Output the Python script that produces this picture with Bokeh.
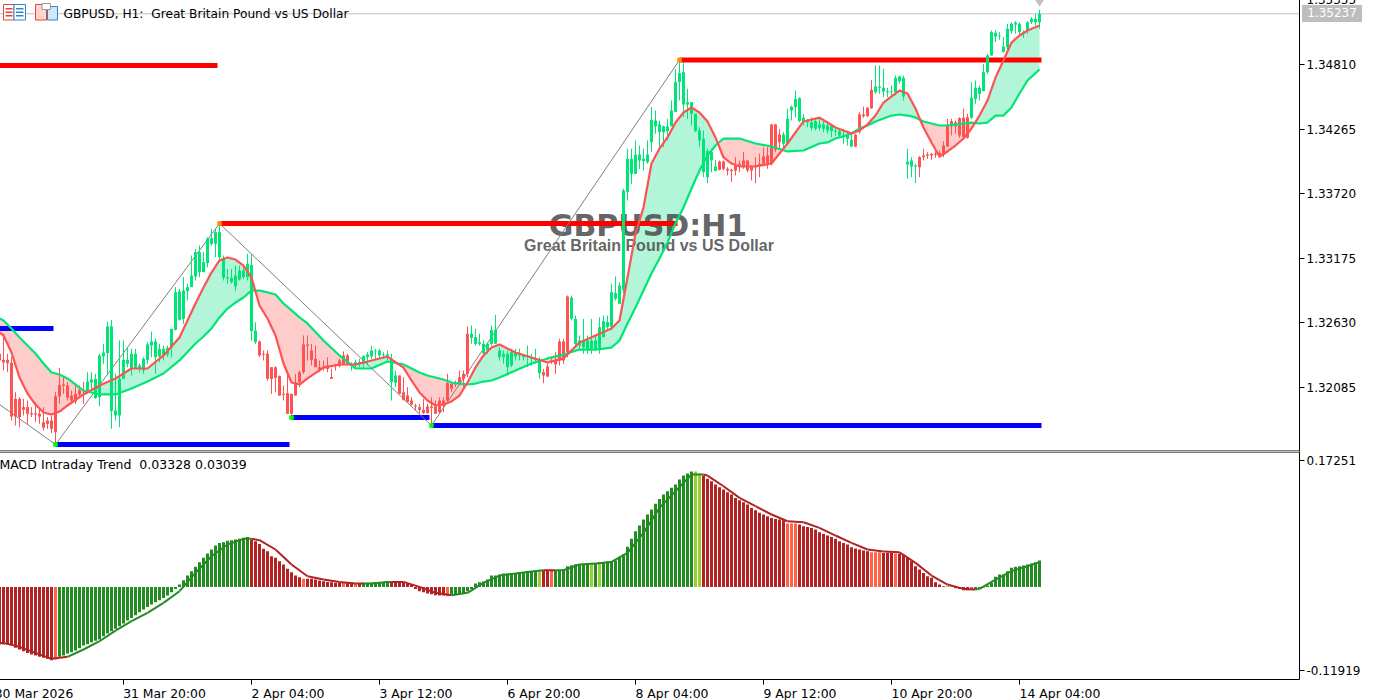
import numpy as np
from bokeh.core.properties import value
from bokeh.embed import file_html
from bokeh.layouts import column
from bokeh.models import (ColumnDataSource, Div, FixedTicker, Label, LinearAxis, NumeralTickFormatter,
                          Range1d, Span)
from bokeh.plotting import figure
from bokeh.resources import INLINE

# ---- price data, in points above 1.30000 (1 point = 0.00001), bars -1 .. 259
high_pts = [2424,2537,2368,2340,2044,2002,1988,1974,1918,1960,1904,1918,1834,1848,2044,2250,2171,2129,2059,2101,
 2101,2129,2213,2213,2199,2368,2452,2641,2655,2199,2481,2481,2424,2410,2410,2284,2340,2466,2556,2495,
 2452,2438,2438,2579,2931,2917,3015,2959,3198,3254,3282,3226,3353,3423,3423,3451,3198,3085,3085,3113,
 3113,3113,3212,3212,2635,2481,2396,2396,2255,2261,2185,2101,2199,2030,2199,2227,2523,2523,2452,2438,
 2312,2312,2340,2241,2284,2326,2388,2368,2298,2317,2326,2354,2382,2438,2410,2410,2382,2396,2368,2227,
 2185,2171,2087,2002,1946,1946,1988,1946,2002,1974,2002,2002,2199,2129,2143,2227,2227,2599,2607,2579,
 2537,2481,2466,2607,2697,2424,2396,2396,2410,2410,2410,2368,2438,2368,2410,2340,2241,2284,2340,2382,
 2495,2495,2860,2860,2691,2523,2663,2523,2663,2523,2677,2691,2691,2959,3021,2973,3761,4098,4098,4169,
 4126,4098,4169,4450,4422,4337,4295,4351,4506,4773,4844,4830,4605,4492,4394,4281,4253,4098,4084,4005,
 4000,4000,3943,3929,4028,4000,4070,4000,3958,4028,4056,4112,4112,4309,4309,4267,4239,4436,4464,4590,
 4534,4394,4351,4365,4351,4365,4351,4323,4309,4267,4267,4267,4239,4239,4225,4408,4455,4450,4680,4801,
 4801,4773,4613,4633,4717,4717,4717,4098,4028,3972,4036,4098,4070,4062,4084,4084,4163,4351,4351,4337,
 4365,4436,4394,4661,4675,4633,4816,4900,5097,5097,5083,5041,5153,5167,5176,5167,5097,5176,5209,5237,5271]
low_pts = [2255,2227,2213,1805,1763,1749,1848,1777,1834,1791,1777,1721,1735,1698,1600,1946,2030,1974,1946,1946,
 2002,1946,2030,2059,1988,1924,2284,2185,1735,1805,1749,2157,2255,2185,2241,2213,2199,2284,2340,2199,
 2298,2312,2340,2340,2565,2649,2621,2818,2931,2987,3015,3057,3099,3282,3184,3142,2987,2959,2959,2897,
 2987,3001,2987,2481,2452,2340,2312,2143,2030,2044,2016,1974,1862,1834,2016,2087,2199,2312,2270,2255,
 2213,2227,2213,2157,2227,2255,2284,2270,2227,2241,2255,2241,2270,2326,2312,2326,2326,2312,1974,2087,
 2030,1974,1960,1932,1890,1862,1862,1862,1760,1862,1862,1876,1946,2044,2087,2101,2087,2171,2452,2438,
 2438,2340,2368,2438,2452,2312,2284,2185,2255,2312,2312,2312,2255,2270,2284,2157,2120,2171,2284,2199,
 2270,2284,2340,2649,2424,2410,2368,2368,2368,2396,2368,2509,2565,2565,2818,2790,2880,3662,3803,3887,
 3929,3915,3972,4070,4225,4112,4112,4169,4309,4408,4506,4365,4351,4295,4239,4112,3859,3808,3901,3915,
 3915,3915,3873,3817,3873,3901,3929,3901,3831,3808,3859,3958,3929,3958,4070,4098,4098,4140,4337,4365,
 4323,4295,4281,4253,4253,4253,4239,4225,4197,4211,4197,4140,4126,4112,4112,4225,4360,4365,4436,4562,
 4562,4534,4534,4548,4548,4647,4506,3845,3859,3808,3859,4000,4014,4005,4022,4028,4028,4112,4211,4225,
 4191,4197,4183,4351,4478,4506,4590,4731,4886,4998,5018,4914,4928,5069,5069,5046,5035,5069,5153,5139,5111]
body_top_pts = [2368,2317,2317,2292,1988,1988,1918,1918,1867,1867,1862,1791,1805,1805,2011,2106,2109,2101,2016,2030,
 2059,2059,2135,2151,2157,2354,2379,2599,2599,1890,2157,2317,2317,2368,2368,2270,2326,2447,2472,2472,
 2410,2410,2416,2579,2888,2894,2902,2931,3029,3226,3226,3142,3338,3344,3395,3395,3178,3015,3009,3029,
 3071,3071,3127,3119,2565,2472,2368,2368,2255,2255,2179,2030,2036,2030,2129,2213,2447,2447,2396,2326,
 2255,2261,2270,2171,2270,2312,2354,2354,2284,2298,2298,2348,2362,2396,2396,2396,2362,2362,2326,2185,
 2185,2044,2016,1974,1932,1918,1895,1924,1924,1924,1974,1974,2120,2115,2120,2171,2199,2537,2537,2509,
 2466,2452,2452,2570,2570,2396,2368,2368,2382,2382,2362,2354,2354,2340,2326,2317,2213,2261,2312,2317,
 2472,2472,2852,2841,2663,2481,2481,2481,2481,2481,2593,2644,2635,2888,2880,2945,3747,4014,4014,4050,
 4050,4014,4050,4343,4337,4304,4287,4287,4422,4661,4737,4745,4492,4492,4394,4253,4183,4079,4070,3949,
 3991,3991,3929,3921,3958,3972,4000,4000,3949,3958,3972,4033,4042,4304,4304,4219,4219,4351,4455,4520,
 4526,4360,4332,4323,4332,4304,4304,4295,4289,4253,4247,4211,4211,4174,4216,4388,4388,4444,4596,4624,
 4624,4613,4585,4582,4697,4709,4697,3989,4000,3958,4028,4042,4050,4056,4056,4064,4126,4304,4332,4323,
 4357,4360,4365,4529,4613,4613,4745,4886,5083,5077,5055,4962,5111,5153,5164,5153,5083,5167,5195,5195,5237]
body_bot_pts = [2312,2295,2289,1839,1839,1834,1895,1862,1856,1856,1839,1744,1777,1735,1707,2008,2098,1997,1974,1966,
 2025,2053,2059,2126,1994,2002,2346,2374,1884,1848,1848,2157,2284,2241,2241,2241,2227,2317,2438,2340,
 2346,2354,2362,2424,2570,2655,2663,2897,2931,3021,3057,3057,3133,3296,3296,3184,3009,3004,2973,2936,
 2995,3015,3015,2559,2466,2354,2360,2157,2157,2165,2016,2022,1862,1862,2016,2129,2213,2436,2317,2255,
 2227,2250,2241,2157,2264,2264,2284,2284,2264,2270,2278,2284,2340,2346,2390,2354,2354,2346,2129,2123,
 2030,1980,1960,1940,1924,1895,1867,1867,1912,1862,1876,1932,1974,2073,2109,2115,2157,2199,2503,2452,
 2452,2374,2396,2452,2452,2340,2340,2255,2270,2346,2354,2340,2340,2326,2317,2205,2185,2177,2300,2278,
 2312,2312,2382,2663,2452,2438,2424,2410,2410,2410,2410,2509,2593,2593,2832,2790,2908,3733,3887,3887,
 4000,3994,3986,4154,4287,4239,4239,4247,4287,4408,4661,4472,4472,4394,4247,4169,3901,3859,4000,3910,
 3921,3929,3915,3910,3915,3958,3952,3915,3915,3943,3952,3972,3966,3972,4090,4154,4140,4140,4422,4450,
 4332,4323,4320,4275,4267,4275,4267,4253,4247,4244,4211,4202,4183,4118,4118,4239,4374,4374,4441,4576,
 4613,4582,4576,4576,4576,4669,4540,3966,3949,3949,3943,4028,4039,4042,4048,4033,4050,4118,4287,4287,
 4211,4197,4191,4360,4520,4562,4585,4745,4886,5046,5049,4914,4956,5091,5147,5083,5069,5097,5167,5167,5167]
# inclusive runs of bars that closed up; all others closed down
up_bar_runs = [(21,63),(87,98),(117,134),(142,178),(195,212),(218,228),(242,259)]

# ---- moving averages at these bars
band_bars_a = [-1,0,4,8,12,16,20,24,28,32,36,40,44,48,52,56,60,64,68,72,76,80,84,88,92,96,100,104,108,112,116,120,124,128,
 132,136,140,144,148,152,156,160,164,168,172,176,180,184,188,192,196,200,204,208,212,216,220,224,228,232,236,240,244,248,252,256,259]
fast_pts_a = [2548,2523,2168,1940,1856,1932,2025,2101,2160,2244,2244,2354,2506,2793,3054,3181,3113,2776,2523,2126,2160,2252,2278,2278,2312,2345,2252,2042,1932,1966,2126,2354,2447,2379,
 2337,2295,2328,2464,2523,2582,3012,3603,4101,4320,4447,4329,4025,3949,3949,3974,4143,4329,4362,4278,4227,4303,4489,4590,4438,4152,4076,4185,4379,4700,4995,5097,5139]
slow_pts_a = [2666,2649,2506,2371,2210,2160,2058,2025,2025,2075,2134,2202,2312,2455,2582,2750,2843,2902,2869,2734,2624,2480,2354,2244,2244,2303,2278,2210,2168,2126,2109,2134,2168,2227,
 2286,2329,2362,2404,2404,2421,2624,2902,3172,3468,3763,4042,4185,4185,4143,4118,4076,4084,4143,4185,4227,4295,4354,4388,4363,4312,4295,4312,4312,4379,4447,4675,4768]
band_bars_b = [2,6,10,14,50,54,58,62,66,70,74,102,106,110,114,118,122,154,158,162,166,170,174,178,182,206,210,214,218,222,226,230,234,238,242,246,250,254]
fast_pts_b = [2379,2033,1873,1881,2928,3156,3164,3012,2666,2286,2109,2143,1974,1940,2016,2253,2421,2649,3383,3974,4194,4405,4405,4194,3974,4320,4253,4253,4379,4540,4565,4278,4033,4126,4270,4506,4844,5055]
slow_pts_b = [2582,2438,2286,2193,2514,2675,2801,2902,2886,2793,2675,2244,2185,2151,2117,2117,2143,2480,2759,3046,3308,3603,3915,4126,4185,4152,4202,4270,4329,4379,4379,4329,4295,4303,4320,4320,4379,4565]

# ---- zigzag and support / resistance levels
zigzag_bars = [-1,13,54,107,169]
zigzag_pts = [1940,1603,3468,1763,4848]
res_starts = [-2,54,169]
res_ends = [53.5,168.5,259.5]
res_levels = [4801,3468,4848]
sup_starts = [-2,13,72,107]
sup_ends = [12.5,71.5,106.5,259.5]
sup_levels = [2582,1603,1830,1763]
high_marker_bars = [54,169]
high_marker_pts = [3468,4848]
low_marker_bars = [13,72,107]
low_marker_pts = [1603,1830,1763]

# ---- MACD histogram and signal, in thousandths, bars -1 .. 259
hist_milli = [-83.8,-83.8,-83.8,-84.7,-88.4,-90.7,-93.1,-95.4,-97.7,-99.1,-100.9,-102.3,-103.7,-105.6,-104.6,-100.9,-99.1,-96.3,-94.5,-92.1,
 -88.9,-85.2,-83.3,-80.6,-78.7,-76.9,-72.2,-68.5,-65.3,-62.0,-58.3,-54.6,-50.5,-46.8,-43.1,-38.9,-35.2,-31.5,-28.2,-25.0,
 -22.2,-19.0,-15.7,-11.1,-6.5,-0.5,5.6,12.0,18.1,24.1,30.6,36.6,42.6,48.2,53.7,57.4,58.3,60.2,61.1,62.0,
 63.0,64.4,65.7,62.0,59.7,56.0,49.1,45.8,38.9,36.6,31.9,27.3,21.3,16.7,12.0,9.7,7.4,7.4,7.4,6.5,
 5.1,4.2,3.2,2.8,1.9,1.9,1.9,1.9,1.9,0.5,0.5,1.9,1.9,1.9,3.2,3.2,3.2,4.2,4.2,4.2,
 2.8,1.9,0.5,-0.5,-6.5,-9.7,-11.1,-13.0,-13.9,-15.3,-15.7,-15.7,-16.7,-14.4,-14.4,-14.4,-13.0,-9.7,-6.5,0.9,
 2.8,3.7,6.5,12.0,12.0,13.4,14.8,14.8,15.7,15.7,16.7,17.1,18.1,18.5,18.5,19.0,19.4,19.4,19.4,19.4,
 19.4,20.4,25.0,26.4,27.8,28.2,28.2,29.2,28.2,28.7,28.7,30.6,31.5,31.9,32.9,38.0,41.2,51.9,63.0,73.6,
 81.5,89.8,96.8,103.7,111.6,118.5,124.5,129.2,133.8,138.4,145.4,150.9,153.7,156.5,156.5,153.7,150.9,146.3,143.1,138.4,
 134.7,131.5,127.8,124.5,119.9,116.7,113.9,110.7,106.0,102.8,99.1,96.8,94.5,92.1,90.7,89.8,88.9,84.3,84.3,84.3,
 82.9,80.6,79.6,78.2,75.9,72.2,69.9,67.6,65.7,63.0,59.7,57.4,55.1,51.4,49.5,48.2,46.8,45.8,44.4,44.4,
 44.4,43.5,43.5,43.5,42.6,42.6,41.2,36.6,31.9,25.0,20.4,15.7,11.1,8.8,2.8,-0.5,-2.8,-3.2,-3.2,-5.6,
 -6.5,-8.3,-8.3,-8.3,-6.5,-5.6,-4.6,-1.9,1.9,10.2,13.4,13.4,18.1,22.7,24.1,25.0,25.9,27.3,28.7,30.6,32.9]
hist_runs = [(-1,12,"down"),(13,13,"down2"),(14,61,"up"),(62,74,"down"),(75,75,"down2"),(76,84,"down"),(85,85,"down2"),
 (86,87,"down"),(88,88,"down2"),(89,89,"down"),(90,96,"up"),(97,110,"down"),(111,111,"down2"),(112,133,"up"),(134,134,"up2"),
 (135,136,"down"),(137,137,"down2"),(138,146,"up"),(147,147,"up2"),(148,148,"up"),(149,149,"up2"),(150,172,"up"),(173,174,"up2"),
 (175,195,"down"),(196,198,"down2"),(199,216,"down"),(217,219,"down2"),(220,222,"down"),(223,223,"down2"),(224,241,"down"),
 (242,242,"down2"),(243,259,"up")]
signal_bars = [-1,0,4,8,12,16,20,24,28,32,36,40,44,48,52,56,60,62,64,68,72,76,80,84,88,90,92,96,97,100,104,108,112,116,120,124,128,132,135,138,140,
 144,148,152,156,160,164,168,172,175,176,180,184,188,192,196,200,204,208,212,216,220,224,228,232,236,240,243,244,248,252,256,259]
signal_milli = [-81.5,-81.5,-87.0,-95.4,-103.7,-100.9,-90.7,-79.2,-64.4,-51.4,-39.8,-25.9,-9.7,15.7,38.9,55.1,63.0,63.0,61.1,48.2,27.3,11.1,6.5,3.2,0.9,0.9,0.9,3.2,3.2,3.2,-3.7,-12.0,-15.3,-12.0,1.9,12.0,14.8,17.6,19.4,19.4,19.4,
 27.3,28.7,31.0,43.5,71.3,106.0,129.2,152.3,152.3,150.9,136.1,119.9,108.3,96.8,87.5,86.1,78.2,67.6,57.4,48.2,45.4,44.4,29.6,12.0,-0.5,-6.5,-7.4,-6.5,6.5,18.1,25.0,30.6]
hist_base_milli = -3.9

# ---- tick labels
price_ticks = [1.35355,1.34810,1.34265,1.33720,1.33175,1.32630,1.32085]
macd_ticks = [0.17251,-0.11919]
time_ticks = [-2,30,62,94,126,158,190,222,254]
time_labels = ["30 Mar 2026","31 Mar 20:00","2 Apr 04:00","3 Apr 12:00","6 Apr 20:00","8 Apr 04:00","9 Apr 12:00","10 Apr 20:00","14 Apr 04:00"]
time_label_spans = [19.25,20.5,18.25,18.25,18.25,18.25,18.25,20.25,20.25]
bid_text = "1.35237"

UP, DOWN = "#00E676", "#FF5252"
FONT = "DejaVu Sans"
TOP_CUT = 10
WIDTH, FRAME_W, FRAME_H_MAIN, FRAME_H_SUB = 1381, 1305, 451 + TOP_CUT, 228
bars = np.arange(-1, 260)
price = lambda pts: 1.3 + np.asarray(pts, dtype=float) * 1e-5
bx = lambda px: (px - 3) / 4              # screen column to bar index
py = lambda px: 1.3 + (5350 - 8.44 * px) * 1e-5   # screen row to price

x_range = Range1d(bx(-6), bx(1299))


def base_figure(height, y_range, frame_h, bottom):
    f = figure(width=WIDTH, height=height, frame_width=FRAME_W, frame_height=frame_h, x_range=x_range, y_range=y_range,
               output_backend="svg", toolbar_location=None, y_axis_location="right",
               x_axis_location="below" if bottom else None,
               min_border_left=0, min_border_top=0, min_border_bottom=0, min_border_right=WIDTH - FRAME_W)
    f.outline_line_color = None
    f.grid.visible = False
    ax = f.yaxis[0]
    ax.axis_line_color = "black"
    ax.major_tick_in = 0
    ax.major_tick_out = 5
    ax.minor_tick_in = 0
    ax.minor_tick_out = 0
    ax.major_tick_line_color = "black"
    ax.major_label_standoff = 2
    ax.major_label_text_font = FONT
    ax.major_label_text_font_size = "12px"
    ax.major_label_text_color = "black"
    ax.formatter = NumeralTickFormatter(format="0.00000")
    return f


# ================= main window =================
main = base_figure(FRAME_H_MAIN, Range1d(py(451), py(-TOP_CUT)), FRAME_H_MAIN, False)
main.yaxis[0].ticker = FixedTicker(ticks=price_ticks)

order = np.argsort(band_bars_a + band_bars_b)
band_bars = [(band_bars_a + band_bars_b)[k] for k in order]
fast_pts = [(fast_pts_a + fast_pts_b)[k] for k in order]
slow_pts = [(slow_pts_a + slow_pts_b)[k] for k in order]

# trend band, split where the averages cross
bx_arr, fa, sl = [], [], []
for j in range(len(band_bars)):
    if j:
        d0, d1 = fast_pts[j-1] - slow_pts[j-1], fast_pts[j] - slow_pts[j]
        if d0 * d1 < 0:
            t = d0 / (d0 - d1)
            bx_arr.append(band_bars[j-1] + t * (band_bars[j] - band_bars[j-1]))
            v = fast_pts[j-1] + t * (fast_pts[j] - fast_pts[j-1])
            fa.append(v); sl.append(v)
    bx_arr.append(band_bars[j]); fa.append(fast_pts[j]); sl.append(slow_pts[j])
fa, sl = np.array(fa, float), np.array(sl, float)
lo = np.minimum(fa, sl)
main.varea(x=bx_arr, y1=price(sl), y2=price(lo), fill_color="#FFCCCC", level="underlay")
main.varea(x=bx_arr, y1=price(fa), y2=price(lo), fill_color="#B2F5D8", level="underlay")

main.text(x=[bx(647.5)], y=[py(225)], text=["GBPUSD:H1"], text_font=value("DejaVu Sans"), text_font_style="bold",
          text_font_size=value("30px"), text_color="#4A4A4A", text_alpha=0.85, text_align="center", text_baseline="middle",
          level="underlay")
main.text(x=[bx(648.5)], y=[py(245)], text=["Great Britain Pound vs US Dollar"], text_font=value("Liberation Sans"), text_font_style="bold",
          text_font_size=value("16px"), text_color="#4A4A4A", text_alpha=0.85, text_align="center", text_baseline="middle",
          level="underlay")

main.add_layout(Span(location=py(13.3), dimension="width", line_color="#C0C0C0", line_width=1, level="underlay"))

# levels
main.segment(x0=res_starts, x1=res_ends, y0=price(res_levels), y1=price(res_levels), line_color="#FF0000", line_width=5)
main.segment(x0=sup_starts, x1=sup_ends, y0=price(sup_levels), y1=price(sup_levels), line_color="#0000FF", line_width=5)
main.line(zigzag_bars, price(zigzag_pts), line_color="#808080", line_width=1)

# candles
top, bot = np.array(body_top_pts, float), np.array(body_bot_pts, float)
is_up = np.zeros(len(bars), bool)
for a, b in up_bar_runs:
    is_up[(bars >= a) & (bars <= b)] = True
open_pts = np.where(is_up, bot, top)
close_pts = np.where(is_up, top, bot)
colors = [UP if c >= o else DOWN for o, c in zip(open_pts, close_pts)]
src = ColumnDataSource(dict(x=bars, high=price(high_pts), low=price(low_pts), open=price(open_pts), close=price(close_pts), color=colors))
main.segment(x0="x", x1="x", y0="low", y1="high", line_color="color", line_width=1, source=src)
main.vbar(x="x", width=0.75, top="open", bottom="close", fill_color="color", line_color=None, source=src)

main.line(band_bars, price(slow_pts), line_color=UP, line_width=2.2, line_join="round")
main.line(band_bars, price(fast_pts), line_color=DOWN, line_width=2.2, line_join="round")

main.scatter(high_marker_bars, price(high_marker_pts), marker="square", size=4.5, fill_color="#FF8C00", line_color=None)
main.scatter(low_marker_bars, price(low_marker_pts), marker="square", size=4.5, fill_color="#00FF00", line_color=None)
main.scatter([259], [py(-1.5)], marker="diamond", size=15, fill_color="#C0C0C0", line_color=None)

# header icons
def box(f, x0, y0, x1, y1, fill, line=None):
    f.quad(left=[bx(x0) ], right=[bx(x1)], top=[py(y0)], bottom=[py(y1)], fill_color=fill, line_color=line, level="overlay")

box(main, 3, 4, 13.5, 19.5, "#FFFFFF", "#E8403A")
box(main, 13.5, 4, 25, 19.5, "#FFFFFF", "#2E86C8")
for yy in (7.5, 11, 14.5):
    box(main, 5, yy, 12, yy + 1.5, "#E8403A")
    box(main, 15.5, yy, 23, yy + 1.5, "#2E86C8")
box(main, 35, 4, 46, 19.5, "#FFD5CC", "#E8403A")
box(main, 47, 6, 57, 19.5, "#CFE7F7", "#2E86C8")
box(main, 41.5, 3, 50, 9, "#FFFFFF", "#9A9A9A")

main.add_layout(Label(x=bx(63), y=py(13.5), text="GBPUSD, H1:\u00a0 Great Britain Pound vs US Dollar", text_font=FONT, text_font_size="12.2px",
                      text_color="black", text_baseline="middle", text_align="left"))
main.add_layout(Span(location=py(450.5), dimension="width", line_color="black", line_width=1))

# ================= MACD window =================
sy = lambda px: (584.7 - px) * 0.001389
sub = base_figure(FRAME_H_SUB + 20, Range1d(sy(680), sy(452)), FRAME_H_SUB, True)
sub.yaxis[0].ticker = FixedTicker(ticks=macd_ticks)
sub.add_layout(Span(location=sy(452.5), dimension="width", line_color="black", line_width=1))

palette = {"up": "#228B22", "up2": "#9ACD32", "down": "#B22222", "down2": "#FF6347"}
state = {}
for a, b, s in hist_runs:
    for k in range(a, b + 1):
        state[k] = s
hist_val = np.array(hist_milli) / 1000
sub.vbar(x=bars, width=0.75, top=hist_val, bottom=hist_base_milli / 1000, fill_color=[palette[state[int(k)]] for k in bars], line_color=None)

sig_x, sig_y, sig_c = [], [], []
for j in range(len(signal_bars) - 1):
    sig_x.append([signal_bars[j], signal_bars[j+1]])
    sig_y.append([signal_milli[j] / 1000, signal_milli[j+1] / 1000])
    sig_c.append("#228B22" if state[signal_bars[j]].startswith("up") else "#B22222")
sub.multi_line(sig_x, sig_y, line_color=sig_c, line_width=2)

sub.add_layout(Label(x=bx(-1), y=sy(465), text="MACD Intraday Trend\u00a0 0.03328 0.03039", text_font=FONT, text_font_size="12.5px",
                     text_color="black", text_baseline="middle", text_align="left"))

ax = sub.xaxis[0]
ax.ticker = FixedTicker(ticks=time_ticks)
ax.axis_line_color = "black"
ax.major_tick_in = 0
ax.major_tick_out = 5
ax.minor_tick_in = 0
ax.minor_tick_out = 0
ax.major_tick_line_color = "black"
ax.major_label_text_font_size = "1px"
ax.major_label_text_color = None
ax.major_label_standoff = 0

centers = [t + s / 2 for t, s in zip(time_ticks, time_label_spans)]
ax2 = LinearAxis(ticker=FixedTicker(ticks=centers), major_tick_in=0, major_tick_out=0, minor_tick_in=0, minor_tick_out=0,
                 axis_line_color=None, major_tick_line_color=None, major_label_standoff=1,
                 major_label_text_font=FONT, major_label_text_font_size="12.4px", major_label_text_color="black",
                 major_label_overrides=dict(zip(centers, time_labels)))
sub.add_layout(ax2, "below")

bid_box = Div(text=bid_text, width=60, height=17, margin=0,
              styles={"position": "absolute", "left": "1308px", "top": "15px", "width": "60px", "height": "17px",
                      "background-color": "#BEBEBE", "color": "#FFFFFF", "font-family": FONT, "font-size": "12px",
                      "line-height": "17px", "text-align": "center", "z-index": "10"})

page = column(main, sub, bid_box, spacing=0, margin=(-TOP_CUT, 0, 0, -6))
open("out.html", "w").write(file_html(page, INLINE))
